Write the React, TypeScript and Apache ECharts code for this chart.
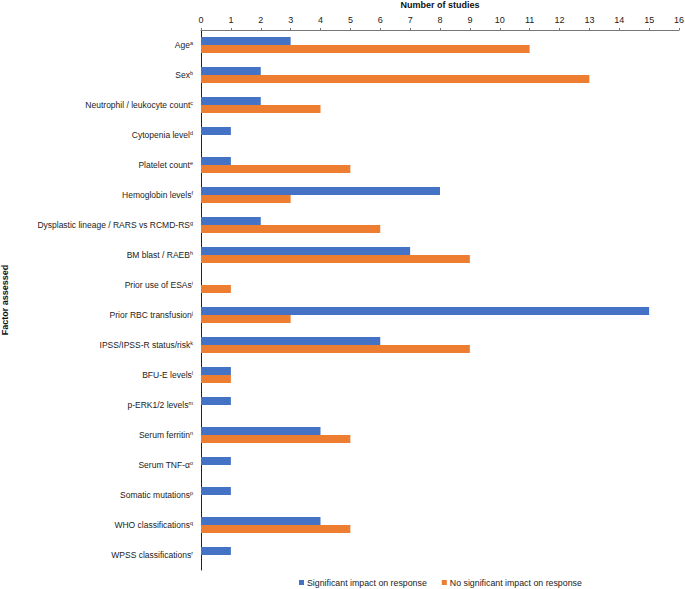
import React, { useEffect, useRef } from "react";
import * as echarts from "echarts";

const categories = [
  "Age", "Sex", "Neutrophil / leukocyte count", "Cytopenia level", "Platelet count",
  "Hemoglobin levels", "Dysplastic lineage / RARS vs RCMD-RS", "BM blast / RAEB",
  "Prior use of ESAs", "Prior RBC transfusion", "IPSS/IPSS-R status/risk", "BFU-E levels",
  "p-ERK1/2 levels", "Serum ferritin", "Serum TNF-\u03b1", "Somatic mutations",
  "WHO classifications", "WPSS classifications",
];
const footnotes = ["a","b","c","d","e","f","g","h","i","j","k","l","m","n","o","p","q","r"];
const significant = [3, 2, 2, 1, 1, 8, 2, 7, null, 15, 6, 1, 1, 4, 1, 1, 4, 1];
const notSignificant = [11, 13, 4, null, 5, 3, 6, 9, 1, 3, 9, 1, null, 5, null, null, 5, null];
const xTicks = { min: 0, max: 16, interval: 1 };

export default function App() {
  const ref = useRef<HTMLDivElement>(null);
  useEffect(() => {
    const chart = echarts.init(ref.current!, null, { renderer: "svg" });
    const font = "Liberation Sans, Arial, sans-serif";
    chart.setOption({
      animation: false,
      textStyle: { fontFamily: font },
      grid: { left: 201, right: 6, top: 30, bottom: 19, containLabel: false, outerBoundsMode: "none" },
      legend: {
        left: 299,
        top: 578,
        itemWidth: 5,
        itemHeight: 5,
        itemGap: 15,
        padding: 0,
        icon: "rect",
        textStyle: { fontSize: 8.8, color: "#222", fontFamily: font, padding: [0, 0, 0, -2] },
        data: ["Significant impact on response", "No significant impact on response"],
      },
      xAxis: {
        type: "value",
        position: "top",
        min: xTicks.min,
        max: xTicks.max,
        interval: xTicks.interval,
        name: "Number of studies",
        nameLocation: "middle",
        nameGap: 21,
        nameTextStyle: { fontWeight: "bold", fontSize: 9, color: "#111", fontFamily: font },
        axisLine: { show: true, lineStyle: { color: "#777", width: 1 } },
        axisTick: { show: true, length: 2, lineStyle: { color: "#777" } },
        axisLabel: { fontSize: 9, color: "#222", margin: 6, fontFamily: font },
        splitLine: { show: false },
      },
      yAxis: {
        type: "category",
        inverse: true,
        data: categories,
        name: "Factor assessed",
        nameLocation: "middle",
        nameGap: 192,
        nameRotate: 90,
        nameTextStyle: { fontWeight: "bold", fontSize: 9, color: "#111", fontFamily: font },
        axisLine: { show: true, lineStyle: { color: "#222", width: 1 } },
        axisTick: { show: false },
        axisLabel: {
          margin: 8,
          fontFamily: font,
          formatter: (v: string, i: number) => `{n|${v}}{s|${footnotes[i]}}`,
          rich: {
            n: { fontSize: 8.5, color: "#222", fontFamily: font, lineHeight: 11 },
            s: { fontSize: 5.5, color: "#222", fontFamily: font, verticalAlign: "top", lineHeight: 11, padding: [0, 0, 4, 0] },
          },
        },
      },
      series: [
        {
          name: "Significant impact on response",
          type: "bar",
          data: significant,
          barWidth: 8,
          barGap: "0%",
          itemStyle: { color: "#4472C4" },
        },
        {
          name: "No significant impact on response",
          type: "bar",
          data: notSignificant,
          barWidth: 8,
          barGap: "0%",
          itemStyle: { color: "#ED7D31" },
        },
      ],
    });
    return () => chart.dispose();
  }, []);
  return <div ref={ref} style={{ width: 685, height: 589, position: "absolute", left: 0, top: 0 }} />;
}
